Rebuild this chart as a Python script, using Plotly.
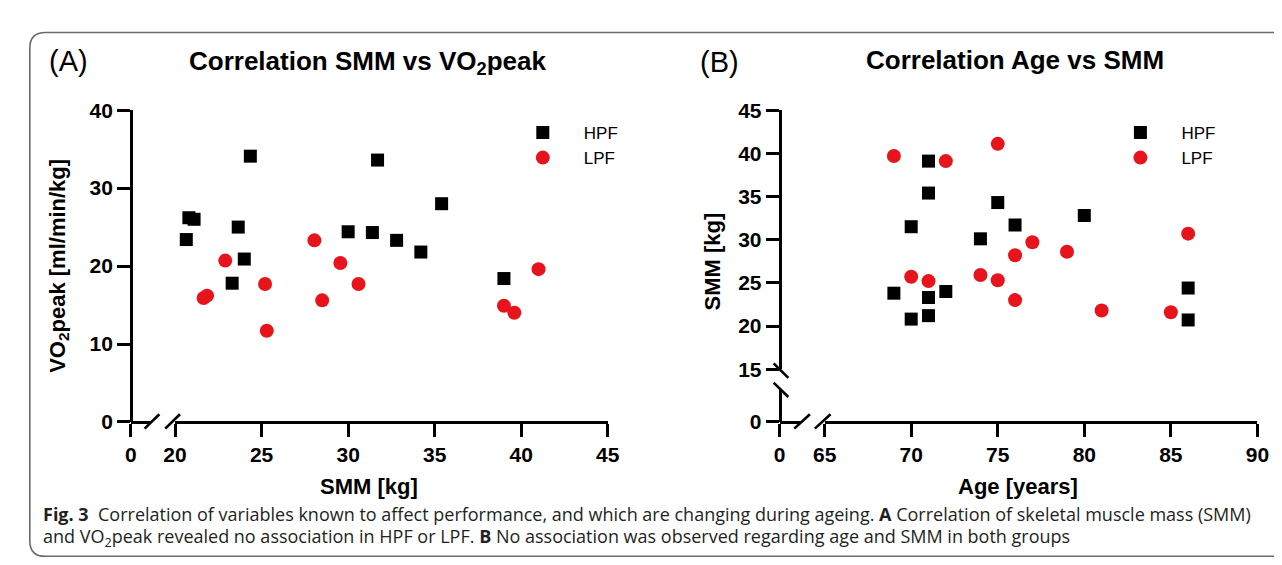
import plotly.graph_objects as go

W, H = 1282, 565

# ---------------- data ----------------
# Panel A: SMM [kg] vs VO2peak [ml/min/kg]
smm_hpf_a = [24.35, 31.7, 35.4, 20.8, 21.1, 20.65, 23.65, 24.0, 23.3, 30.0, 31.4, 32.8, 34.2, 39.0]
vo2_hpf_a = [34.1, 33.6, 28.0, 26.2, 26.0, 23.4, 25.0, 20.9, 17.8, 24.4, 24.3, 23.3, 21.8, 18.4]
smm_lpf_a = [22.9, 21.65, 21.85, 25.2, 25.3, 28.05, 28.5, 29.55, 30.6, 39.0, 39.6, 41.0]
vo2_lpf_a = [20.7, 15.9, 16.2, 17.7, 11.7, 23.3, 15.6, 20.4, 17.7, 14.9, 14.0, 19.6]

# Panel B: Age [years] vs SMM [kg]
age_hpf_b = [71, 71, 75, 80, 70, 76, 74, 69, 71, 72, 70, 71, 86, 86]
smm_hpf_b = [39.1, 35.4, 34.3, 32.8, 31.5, 31.7, 30.1, 23.8, 23.3, 24.0, 20.8, 21.2, 24.4, 20.7]
age_lpf_b = [69, 72, 75, 86, 77, 79, 76, 70, 71, 74, 75, 76, 81, 85]
smm_lpf_b = [39.7, 39.1, 41.1, 30.7, 29.7, 28.6, 28.2, 25.7, 25.2, 25.9, 25.3, 23.0, 21.8, 21.6]

xticks_a = [20, 25, 30, 35, 40, 45]
yticks_a = [0, 10, 20, 30, 40]
xticks_b = [65, 70, 75, 80, 85, 90]
yticks_b = [15, 20, 25, 30, 35, 40, 45]

RED = "#e8141b"
BLACK = "#000000"


def fx(p):
    return p / W


def fy(p):
    return 1 - p / H


fig = go.Figure()

msize = 13
fig.add_trace(go.Scatter(x=smm_hpf_a, y=vo2_hpf_a, mode="markers", name="HPF",
                         marker=dict(symbol="square", size=msize, color=BLACK),
                         xaxis="x", yaxis="y", legend="legend", cliponaxis=False))
fig.add_trace(go.Scatter(x=smm_lpf_a, y=vo2_lpf_a, mode="markers", name="LPF",
                         marker=dict(symbol="circle", size=msize + 1, color=RED),
                         xaxis="x", yaxis="y", legend="legend", cliponaxis=False))
fig.add_trace(go.Scatter(x=age_hpf_b, y=smm_hpf_b, mode="markers", name="HPF",
                         marker=dict(symbol="square", size=msize, color=BLACK),
                         xaxis="x2", yaxis="y2", legend="legend2", cliponaxis=False))
fig.add_trace(go.Scatter(x=age_lpf_b, y=smm_lpf_b, mode="markers", name="LPF",
                         marker=dict(symbol="circle", size=msize + 1, color=RED),
                         xaxis="x2", yaxis="y2", legend="legend2", cliponaxis=False))
# empty traces so the broken-axis stubs get their own subplots
fig.add_trace(go.Scatter(x=[], y=[], xaxis="x3", yaxis="y", showlegend=False, hoverinfo="skip"))
fig.add_trace(go.Scatter(x=[], y=[], xaxis="x4", yaxis="y4", showlegend=False, hoverinfo="skip"))

tickfont = dict(family="Liberation Sans, Arial, sans-serif", size=21, color="black", weight="bold")
common = dict(showline=True, linecolor="black", linewidth=2.6, ticks="outside", ticklen=13,
              tickwidth=2.6, tickcolor="black", showgrid=False, zeroline=False,
              tickfont=tickfont, fixedrange=True)

xa_pos = fy(419)
leg_font = dict(family="Liberation Sans, Arial, sans-serif", size=17, color="black")
fig.update_layout(
    width=W, height=H, margin=dict(l=0, r=0, t=0, b=0),
    paper_bgcolor="white", plot_bgcolor="rgba(0,0,0,0)",
    xaxis=dict(domain=[fx(158), fx(599)], range=[20, 45], tickvals=xticks_a,
               anchor="free", position=xa_pos, **common),
    xaxis3=dict(domain=[fx(113), fx(133)], range=[0, 20 / 17.64], tickvals=[0],
                anchor="free", position=xa_pos, **common),
    yaxis=dict(domain=[fy(419), fy(94)], range=[0, 40], tickvals=yticks_a,
               anchor="free", position=fx(113), **common),
    xaxis2=dict(domain=[fx(820), fx(1261)], range=[65, 90], tickvals=xticks_b,
                anchor="free", position=xa_pos, **common),
    xaxis4=dict(domain=[fx(774), fx(796)], range=[0, 22 / 17.64], tickvals=[0],
                anchor="free", position=xa_pos, **common),
    yaxis2=dict(domain=[fy(364), fy(94)], range=[15, 45], tickvals=yticks_b,
                anchor="free", position=fx(774), **common),
    yaxis4=dict(domain=[fy(419), fy(386)], range=[0, 33 / 9.0], tickvals=[0],
                anchor="free", position=fx(774), **common),
    legend=dict(x=fx(491), y=fy(99), xanchor="left", yanchor="top", bgcolor="rgba(0,0,0,0)",
                font=leg_font, itemwidth=72, tracegroupgap=0),
    legend2=dict(x=fx(1100), y=fy(99), xanchor="left", yanchor="top", bgcolor="rgba(0,0,0,0)",
                 font=leg_font, itemwidth=72, tracegroupgap=0),
    showlegend=True,
)

# ---------- axis break marks and frame (styling shapes) ----------
shapes = []
lw = 2.6
for (x0, x1) in [(127, 142), (148, 163), (789, 805), (810, 826)]:
    shapes.append(dict(type="line", xref="paper", yref="paper",
                       x0=fx(x0), y0=fy(426), x1=fx(x1), y1=fy(411),
                       line=dict(color="black", width=lw)))
for (y0, y1) in [(358, 373), (378, 393)]:
    shapes.append(dict(type="line", xref="paper", yref="paper",
                       x0=fx(768), y0=fy(y0), x1=fx(783), y1=fy(y1),
                       line=dict(color="black", width=lw)))
# rounded figure frame
frame_path = ("M {a},{t} L {b},{t} Q {l},{t} {l},{c} L {l},{d} Q {l},{bt} {b},{bt} L {a},{bt}").format(
    a=fx(1300), b=fx(26), l=fx(10), t=fy(13), c=fy(29), d=fy(543), bt=fy(559))
shapes.append(dict(type="path", xref="paper", yref="paper", path=frame_path,
                   line=dict(color="#6b6b6b", width=1.6)))
fig.update_layout(shapes=shapes)

# ---------- text ----------
ann = []
title_font = dict(family="Liberation Sans, Arial, sans-serif", size=26, color="black", weight="bold")
lab_font = dict(family="Liberation Sans, Arial, sans-serif", size=22, color="black", weight="bold")
panel_font = dict(family="Liberation Sans, Arial, sans-serif", size=29, color="black")
ann.append(dict(text="(A)", x=fx(28), y=fy(43), xanchor="left", yanchor="middle", font=panel_font))
ann.append(dict(text="(B)", x=fx(691), y=fy(44), xanchor="left", yanchor="middle", font=panel_font))
ann.append(dict(text="Correlation SMM vs VO<sub>2</sub>peak", x=fx(354), y=fy(44),
                xanchor="center", yanchor="middle", font=title_font))
ann.append(dict(text="Correlation Age vs SMM", x=fx(1014), y=fy(42),
                xanchor="center", yanchor="middle", font=title_font))
ann.append(dict(text="VO<sub>2</sub>peak [ml/min/kg]", x=fx(39), y=fy(256), textangle=-90,
                xanchor="center", yanchor="middle", font=lab_font))
ann.append(dict(text="SMM [kg]", x=fx(706), y=fy(252), textangle=-90,
                xanchor="center", yanchor="middle", font=lab_font))
ann.append(dict(text="SMM [kg]", x=fx(356), y=fy(486), xanchor="center", yanchor="middle", font=lab_font))
ann.append(dict(text="Age [years]", x=fx(1017), y=fy(486), xanchor="center", yanchor="middle", font=lab_font))

cap_font = dict(family="Open Sans, Noto Sans, sans-serif", size=18, color="#231f20")
ann.append(dict(text="<b>Fig. 3</b>  Correlation of variables known to affect performance, and which are changing "
                     "during ageing. <b>A</b> Correlation of skeletal muscle mass (SMM)",
                x=fx(21), y=fy(515), xanchor="left", yanchor="middle", align="left", font=cap_font))
ann.append(dict(text="and VO<sub>2</sub>peak revealed no association in HPF or LPF. <b>B</b> No association was "
                     "observed regarding age and SMM in both groups",
                x=fx(21), y=fy(539), xanchor="left", yanchor="middle", align="left", font=cap_font))
for a in ann:
    a.update(xref="paper", yref="paper", showarrow=False)
fig.update_layout(annotations=ann)

fig.write_html("out.html")
